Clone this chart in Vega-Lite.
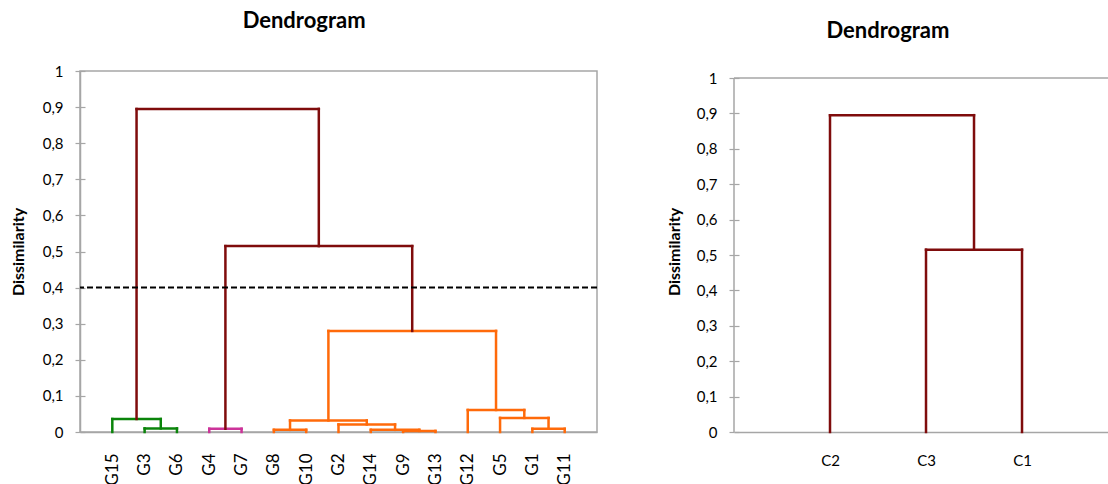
{
  "$schema": "https://vega.github.io/schema/vega-lite/v6.json",
  "background": "white",
  "padding": {"left": 9, "top": 9, "right": 0, "bottom": 0},
  "bounds": "flush",
  "spacing": 137,
  "config": {
    "font": "Lato",
    "view": {"stroke": null},
    "axis": {"labelColor": "black", "titleColor": "black", "labelFont": "Lato", "titleFont": "Lato", "labelOverlap": false}
  },
  "datasets": {
    "left": [
      {"x": 2, "x2": 2, "y": 0, "y2": 0.010, "c": "g"},
      {"x": 3, "x2": 3, "y": 0, "y2": 0.010, "c": "g"},
      {"x": 2, "x2": 3, "y": 0.010, "y2": 0.010, "c": "g"},
      {"x": 1, "x2": 1, "y": 0, "y2": 0.036, "c": "g"},
      {"x": 2.5, "x2": 2.5, "y": 0.010, "y2": 0.036, "c": "g"},
      {"x": 1, "x2": 2.5, "y": 0.036, "y2": 0.036, "c": "g"},
      {"x": 4, "x2": 4, "y": 0, "y2": 0.009, "c": "p"},
      {"x": 5, "x2": 5, "y": 0, "y2": 0.009, "c": "p"},
      {"x": 4, "x2": 5, "y": 0.009, "y2": 0.009, "c": "p"},
      {"x": 6, "x2": 6, "y": 0, "y2": 0.006, "c": "o"},
      {"x": 7, "x2": 7, "y": 0, "y2": 0.006, "c": "o"},
      {"x": 6, "x2": 7, "y": 0.006, "y2": 0.006, "c": "o"},
      {"x": 10, "x2": 10, "y": 0, "y2": 0.003, "c": "o"},
      {"x": 11, "x2": 11, "y": 0, "y2": 0.003, "c": "o"},
      {"x": 10, "x2": 11, "y": 0.003, "y2": 0.003, "c": "o"},
      {"x": 9, "x2": 9, "y": 0, "y2": 0.006, "c": "o"},
      {"x": 10.5, "x2": 10.5, "y": 0.003, "y2": 0.006, "c": "o"},
      {"x": 9, "x2": 10.5, "y": 0.006, "y2": 0.006, "c": "o"},
      {"x": 8, "x2": 8, "y": 0, "y2": 0.021, "c": "o"},
      {"x": 9.75, "x2": 9.75, "y": 0.006, "y2": 0.021, "c": "o"},
      {"x": 8, "x2": 9.75, "y": 0.021, "y2": 0.021, "c": "o"},
      {"x": 6.5, "x2": 6.5, "y": 0.006, "y2": 0.032, "c": "o"},
      {"x": 8.875, "x2": 8.875, "y": 0.021, "y2": 0.032, "c": "o"},
      {"x": 6.5, "x2": 8.875, "y": 0.032, "y2": 0.032, "c": "o"},
      {"x": 14, "x2": 14, "y": 0, "y2": 0.009, "c": "o"},
      {"x": 15, "x2": 15, "y": 0, "y2": 0.009, "c": "o"},
      {"x": 14, "x2": 15, "y": 0.009, "y2": 0.009, "c": "o"},
      {"x": 13, "x2": 13, "y": 0, "y2": 0.039, "c": "o"},
      {"x": 14.5, "x2": 14.5, "y": 0.009, "y2": 0.039, "c": "o"},
      {"x": 13, "x2": 14.5, "y": 0.039, "y2": 0.039, "c": "o"},
      {"x": 12, "x2": 12, "y": 0, "y2": 0.061, "c": "o"},
      {"x": 13.75, "x2": 13.75, "y": 0.039, "y2": 0.061, "c": "o"},
      {"x": 12, "x2": 13.75, "y": 0.061, "y2": 0.061, "c": "o"},
      {"x": 7.6875, "x2": 7.6875, "y": 0.032, "y2": 0.28, "c": "o"},
      {"x": 12.875, "x2": 12.875, "y": 0.061, "y2": 0.28, "c": "o"},
      {"x": 7.6875, "x2": 12.875, "y": 0.28, "y2": 0.28, "c": "o"},
      {"x": 4.5, "x2": 4.5, "y": 0.009, "y2": 0.515, "c": "r"},
      {"x": 10.28125, "x2": 10.28125, "y": 0.28, "y2": 0.515, "c": "r"},
      {"x": 4.5, "x2": 10.28125, "y": 0.515, "y2": 0.515, "c": "r"},
      {"x": 1.75, "x2": 1.75, "y": 0.036, "y2": 0.895, "c": "r"},
      {"x": 7.390625, "x2": 7.390625, "y": 0.515, "y2": 0.895, "c": "r"},
      {"x": 1.75, "x2": 7.390625, "y": 0.895, "y2": 0.895, "c": "r"}
    ],
    "right": [
      {"x": 2, "x2": 2, "y": 0, "y2": 0.515, "c": "r"},
      {"x": 3, "x2": 3, "y": 0, "y2": 0.515, "c": "r"},
      {"x": 2, "x2": 3, "y": 0.515, "y2": 0.515, "c": "r"},
      {"x": 1, "x2": 1, "y": 0, "y2": 0.895, "c": "r"},
      {"x": 2.5, "x2": 2.5, "y": 0.515, "y2": 0.895, "c": "r"},
      {"x": 1, "x2": 2.5, "y": 0.895, "y2": 0.895, "c": "r"}
    ]
  },
  "hconcat": [
    {
      "width": 517,
      "height": 361,
      "view": {"stroke": "#a6a6a6", "strokeWidth": 1.5},
      "title": {"text": "Dendrogram", "fontSize": 22, "fontWeight": "bold", "frame": "bounds", "anchor": "middle", "offset": 31, "color": "black"},
      "layer": [
        {
          "data": {"name": "left"},
          "mark": {"type": "rule", "strokeWidth": 2.5, "strokeCap": "square"},
          "encoding": {
            "x": {"field": "x", "type": "quantitative", "scale": {"domain": [0, 16], "nice": false, "zero": false},
              "axis": {"title": null, "values": [1,2,3,4,5,6,7,8,9,10,11,12,13,14,15],
                "labelExpr": "['G15','G3','G6','G4','G7','G8','G10','G2','G14','G9','G13','G12','G5','G1','G11'][datum.value-1]",
                "labelAngle": -90, "labelFontSize": 17, "labelPadding": 21, "ticks": false, "grid": false, "labelOverlap": false,
                "domainColor": "#a6a6a6", "domainWidth": 1.5}},
            "x2": {"field": "x2"},
            "y": {"field": "y", "type": "quantitative", "scale": {"domain": [0, 1], "nice": false},
              "axis": {"title": "Dissimilarity", "titleFontSize": 16, "titleFontWeight": "bold", "titlePadding": 16,
                "tickCount": 10, "labelOverlap": false,
                "labelExpr": "replace(format(datum.value, '.1~f'), '.', ',')",
                "labelFontSize": 15, "labelPadding": 12, "tickSize": 5, "tickColor": "#a6a6a6", "tickWidth": 1.2,
                "grid": true, "gridColor": "#a6a6a6", "gridDash": [5, 3000], "gridWidth": 1.2,
                "domainColor": "#a6a6a6", "domainWidth": 1.5}},
            "y2": {"field": "y2"},
            "color": {"field": "c", "type": "nominal", "legend": null,
              "scale": {"domain": ["g", "p", "o", "r"], "range": ["#0a840a", "#cc3399", "#ff6a0a", "#7f0c0c"]}}
          }
        },
        {
          "data": {"values": [{}]},
          "mark": {"type": "rule", "color": "black", "strokeWidth": 2, "strokeDash": [6, 3]},
          "encoding": {"y": {"datum": 0.4}}
        }
      ]
    },
    {
      "width": 375,
      "height": 361,
      "title": {"text": "Dendrogram", "fontSize": 22, "fontWeight": "bold", "frame": "bounds", "anchor": "middle", "offset": 28, "color": "black"},
      "layer": [
        {
          "data": {"values": [{}]},
          "mark": {"type": "rule", "color": "#a6a6a6", "strokeWidth": 1.5},
          "encoding": {"y": {"datum": 1}}
        },
        {
          "data": {"values": [{}]},
          "mark": {"type": "rule", "color": "#a6a6a6", "strokeWidth": 1.5},
          "encoding": {"x": {"datum": 0}, "y": {"datum": 0}, "y2": {"datum": 1}}
        },
        {
          "data": {"name": "right"},
          "mark": {"type": "rule", "strokeWidth": 2.5, "strokeCap": "square", "color": "#7f0c0c"},
          "encoding": {
            "x": {"field": "x", "type": "quantitative", "scale": {"domain": [0, 3.906], "nice": false, "zero": false},
              "axis": {"title": null, "values": [1, 2, 3],
                "labelExpr": "['C2','C3','C1'][datum.value-1]",
                "labelAngle": 0, "labelFontSize": 15, "labelPadding": 21, "ticks": false, "grid": false,
                "domainColor": "#a6a6a6", "domainWidth": 1.5}},
            "x2": {"field": "x2"},
            "y": {"field": "y", "type": "quantitative", "scale": {"domain": [0, 1.0198], "nice": false},
              "axis": {"title": "Dissimilarity", "titleFontSize": 16, "titleFontWeight": "bold", "titlePadding": 14,
                "tickCount": 10, "labelOverlap": false,
                "labelExpr": "replace(format(datum.value, '.1~f'), '.', ',')",
                "labelFontSize": 15, "labelPadding": 12, "tickSize": 5, "tickColor": "#a6a6a6", "tickWidth": 1.2,
                "grid": true, "gridColor": "#a6a6a6", "gridDash": [5, 3000], "gridWidth": 1.2,
                "domain": false}},
            "y2": {"field": "y2"}
          }
        }
      ]
    }
  ]
}
